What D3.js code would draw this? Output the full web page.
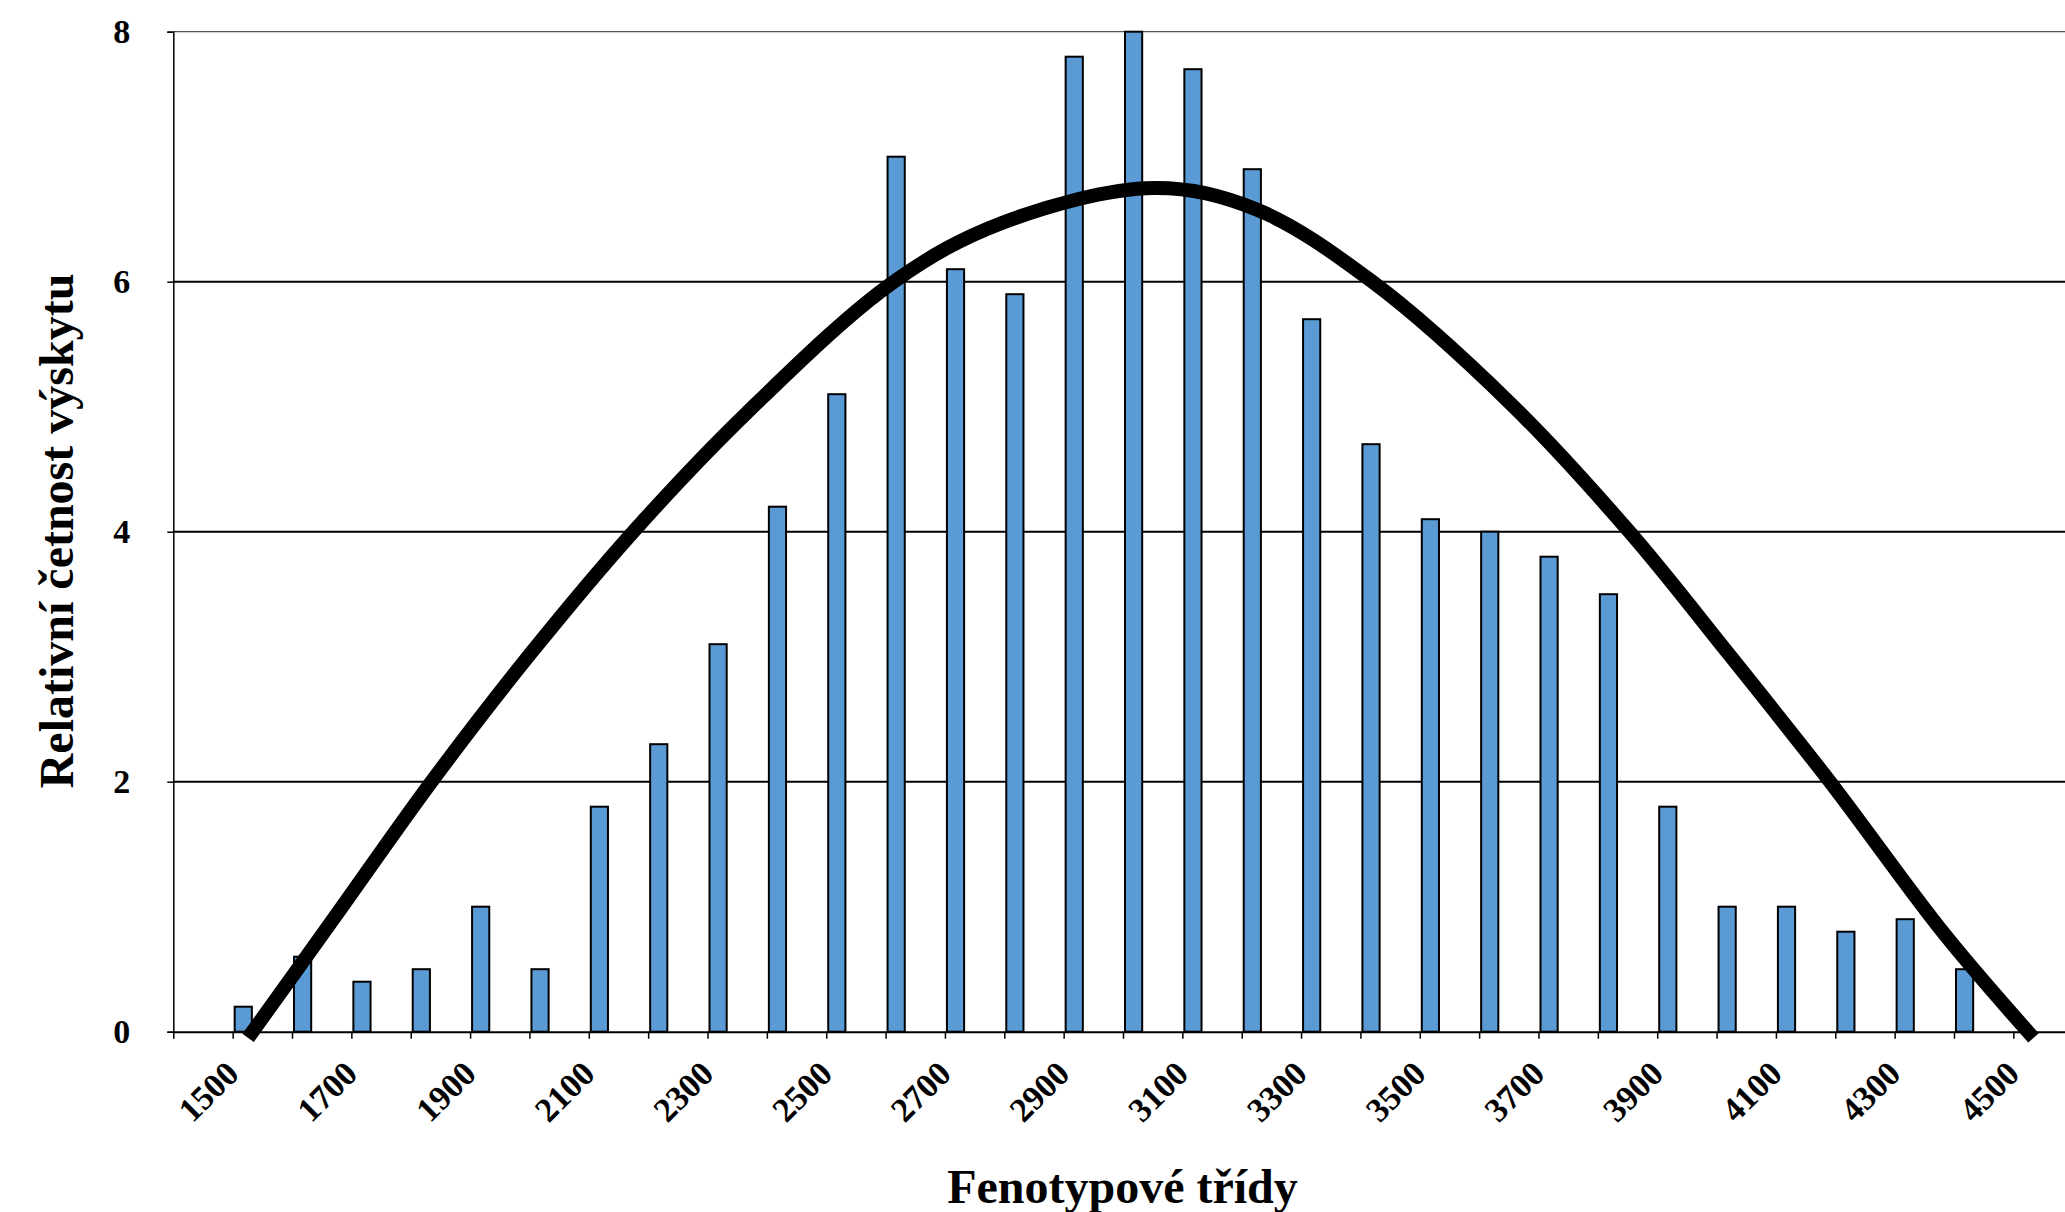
<!DOCTYPE html>
<html><head><meta charset="utf-8">
<script src="https://cdn.jsdelivr.net/npm/d3@7"></script>
<style>html,body{margin:0;padding:0;background:#fff;} svg{display:block;}</style>
</head><body><svg id="chart" width="2065" height="1212"></svg>
<script>
// ---- data ----
const classStarts = [1500,1600,1700,1800,1900,2000,2100,2200,2300,2400,2500,2600,2700,2800,2900,3000,3100,3200,3300,3400,3500,3600,3700,3800,3900,4000,4100,4200,4300,4400];
const frequencies = [0.2,0.6,0.4,0.5,1.0,0.5,1.8,2.3,3.1,4.2,5.1,7.0,6.1,5.9,7.8,8.0,7.7,6.9,5.7,4.7,4.1,4.0,3.8,3.5,1.8,1.0,1.0,0.8,0.9,0.5];
const curveX = [1526,1668,1835,2001,2175,2366,2614,2796,3052,3224,3420,3654,3853,4019,4191,4384,4534];
const curveY = [-0.05,0.89,2.0,3.02,4.0,4.95,6.0,6.47,6.75,6.58,6.0,5.02,4.0,3.03,2.0,0.78,-0.05];
const xTickLabels = [1500,1700,1900,2100,2300,2500,2700,2900,3100,3300,3500,3700,3900,4100,4300,4500];
const xTickMarks = [1400,1500,1600,1700,1800,1900,2000,2100,2200,2300,2400,2500,2600,2700,2800,2900,3000,3100,3200,3300,3400,3500,3600,3700,3800,3900,4000,4100,4200,4300,4400,4500];
const yTicks = [0,2,4,6,8];
const xTitle = "Fenotypové třídy";
const yTitle = "Relativní četnost výskytu";
const classWidth = 100;

// ---- layout ----
const W = 2065, H = 1212;
const plotLeft = 173.3, plotTop = 31.7, plotBottom = 1031.7;
const font = "'Liberation Serif','Times New Roman',serif";

const svg = d3.select("#chart");
const x = d3.scaleLinear().domain([1400, 4600]).range([plotLeft, 2072.7]);
const y = d3.scaleLinear().domain([0, 8]).range([plotBottom, plotTop]);

// gridlines
svg.append("g").selectAll("line").data(yTicks.filter(d => d > 0)).join("line")
  .attr("x1", plotLeft).attr("x2", W)
  .attr("y1", d => y(d)).attr("y2", d => y(d))
  .attr("stroke", d => d === 8 ? "#555" : "#000")
  .attr("stroke-width", d => d === 8 ? 1.3 : 2);

// bars
svg.append("g").selectAll("rect").data(classStarts.map((c, i) => ({c, v: frequencies[i]}))).join("rect")
  .attr("x", d => x(d.c) + 2)
  .attr("width", d => x(d.c + classWidth / 3) - x(d.c) - 2.6)
  .attr("y", d => y(d.v))
  .attr("height", d => y(0) - y(d.v))
  .attr("fill", "#5B9BD5")
  .attr("stroke", "#000")
  .attr("stroke-width", 2);

// y axis
const yAxis = svg.append("g").attr("transform", `translate(${plotLeft},0)`)
  .call(d3.axisLeft(y).tickValues(yTicks).tickSize(6).tickPadding(37).tickFormat(d3.format("d")));
yAxis.select(".domain").attr("stroke", "#000").attr("stroke-width", 1.5);
yAxis.selectAll(".tick line").attr("stroke", "#000").attr("stroke-width", 1.5);
yAxis.selectAll(".tick text")
  .attr("font-family", font).attr("font-weight", "bold").attr("font-size", 34).attr("fill", "#000");

// x axis
const xAxis = svg.append("g").attr("transform", `translate(0,${plotBottom})`)
  .call(d3.axisBottom(x).tickValues(xTickMarks).tickSize(7).tickSizeOuter(0).tickFormat(""));
xAxis.select(".domain").attr("stroke", "#000").attr("stroke-width", 2)
  .attr("d", `M${plotLeft},0.5H${W}`);
xAxis.selectAll(".tick line").attr("stroke", "#000").attr("stroke-width", 1.5);

svg.append("g").selectAll("text").data(xTickLabels).join("text")
  .attr("transform", d => `translate(${x(d) + 8},${plotBottom + 44}) rotate(-45)`)
  .attr("text-anchor", "end")
  .attr("font-family", font).attr("font-weight", "bold").attr("font-size", 34).attr("fill", "#000")
  .text(d => d);

// fitted curve
const line = d3.line().x(d => x(d[0])).y(d => y(d[1])).curve(d3.curveCatmullRom.alpha(0.5));
svg.append("path")
  .datum(curveX.map((cx, i) => [cx, curveY[i]]))
  .attr("d", line)
  .attr("fill", "none").attr("stroke", "#000").attr("stroke-width", 14)
  .attr("stroke-linecap", "butt").attr("stroke-linejoin", "round");

// titles
svg.append("text")
  .attr("x", 1122.5).attr("y", 1203)
  .attr("text-anchor", "middle")
  .attr("font-family", font).attr("font-weight", "bold").attr("font-size", 48).attr("fill", "#000")
  .text(xTitle);
svg.append("text")
  .attr("transform", `translate(73,531) rotate(-90)`)
  .attr("text-anchor", "middle")
  .attr("font-family", font).attr("font-weight", "bold").attr("font-size", 48).attr("fill", "#000")
  .text(yTitle);
</script>
</body></html>
